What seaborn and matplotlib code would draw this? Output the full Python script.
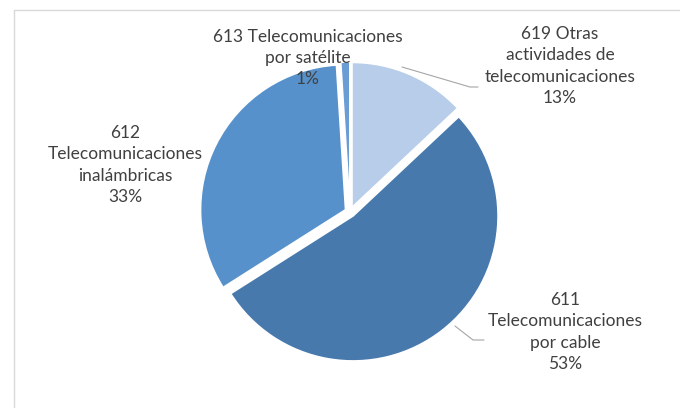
import matplotlib.pyplot as plt
import seaborn as sns
from matplotlib.lines import Line2D

# Datos
codigos = ['619', '611', '612', '613']
nombres = ['619 Otras\nactividades de\ntelecomunicaciones',
           '611\nTelecomunicaciones\npor cable',
           '612\nTelecomunicaciones\ninalámbricas',
           '613 Telecomunicaciones\npor satélite']
porcentajes = [13, 53, 33, 1]
colores = ['#B7CDE9', '#4879AD', '#5791CB', '#6A9DD3']

sns.set_theme(style="white")
plt.rcParams['font.family'] = ['Lato', 'DejaVu Sans']

W, H = 680, 408
fig = plt.figure(figsize=(W / 100, H / 100), dpi=100)
ax = fig.add_axes([0, 0, 1, 1])
ax.axis('off')


def py(y):
    # convertir coordenada de pixel (desde arriba) a datos
    return H - y


# explode va en unidades de datos (pixeles aqui)
ax.pie(porcentajes, colors=colores, startangle=90, counterclock=False,
       explode=[5] * len(porcentajes), center=(350, py(212)), radius=145,
       wedgeprops=dict(linewidth=1.2, edgecolor='white'))
ax.set_xlim(0, W)
ax.set_ylim(0, H)
ax.set_aspect('equal')

# Etiquetas de datos
pos_etiquetas = {'619': (560, 66), '611': (565, 332),
                 '612': (125, 165), '613': (308, 58)}
for cod, nom, p in zip(codigos, nombres, porcentajes):
    x, y = pos_etiquetas[cod]
    ax.text(x, py(y), f'{nom}\n{p}%', ha='center', va='center',
            fontsize=12.5, color='#404040', linespacing=1.42)

# Lineas guia
gris = '#A6A6A6'
ax.plot([402, 470, 478], [py(67), py(87), py(87)], color=gris, lw=0.8)
ax.plot([455, 473, 484], [py(326), py(340), py(340)], color=gris, lw=0.8)

# Borde del area del grafico
fig.add_artist(Line2D([13.5 / W, 13.5 / W], [0, 1 - 10 / H], color='#D9D9D9', lw=1))
fig.add_artist(Line2D([13.5 / W, 1], [1 - 10 / H, 1 - 10 / H], color='#D9D9D9', lw=1))

plt.savefig('out.png', dpi=100)
plt.close()
